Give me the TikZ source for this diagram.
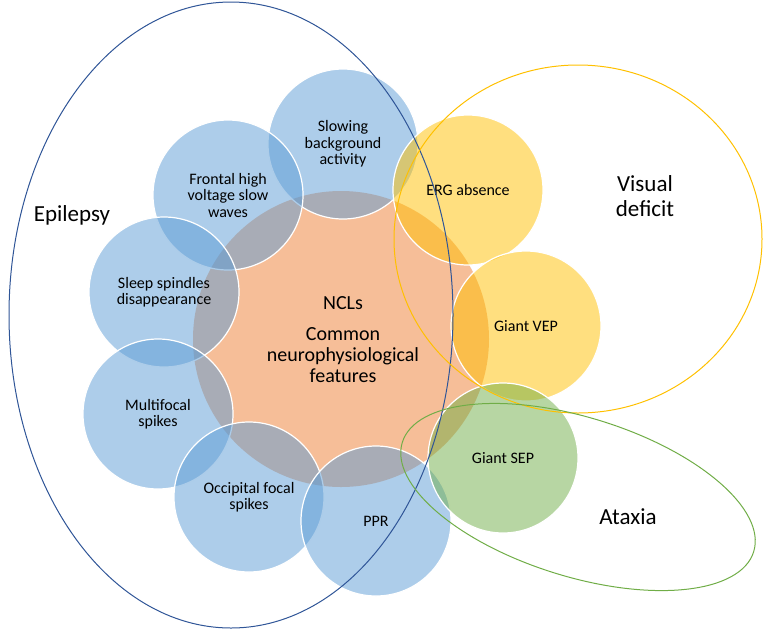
\documentclass[tikz,border=0pt]{standalone}
\usepackage{fontspec}
\setmainfont{Carlito}
\usetikzlibrary{shapes.geometric}
\definecolor{cblue}{HTML}{5B9BD5}
\definecolor{corange}{HTML}{ED7D31}
\definecolor{cyellow}{HTML}{FFC000}
\definecolor{cgreen}{HTML}{70AD47}
\definecolor{cdark}{HTML}{2F5597}
\tikzset{
  bub/.style={circle, minimum size=150pt, inner sep=0pt, fill opacity=0.5, text opacity=1,
     draw=white, line width=1.2pt, align=center, font=\fontsize{16}{16.5}\selectfont},
  bblue/.style={bub, fill=cblue},
  byellow/.style={bub, fill=cyellow},
  bgreen/.style={bub, fill=cgreen},
  bigring/.style={ellipse, inner sep=0pt, line width=1pt, fill=none},
  biglabel/.style={align=center, font=\fontsize{23}{25}\selectfont}
}
\begin{document}
\begin{tikzpicture}[x=1pt,y=-1pt]
\useasboundingbox (0,0) rectangle (765,630);
% central circle
\node[circle, minimum size=296pt, inner sep=0pt, fill=corange, fill opacity=0.5, draw=none] (ncl) at (341,339) {};
% blue circles
\node[bblue] (slow) at (343,144) {Slowing\\background\\activity};
\node[bblue] (front) at (228,195) {Frontal high\\voltage slow\\waves};
\node[bblue] (sleep) at (164,292) {Sleep spindles\\disappearance};
\node[bblue] (multi) at (158,414) {Multifocal\\spikes};
\node[bblue] (occ) at (249,497) {Occipital focal\\spikes};
\node[bblue] (ppr) at (376,521) {PPR};
% yellow circles
\node[byellow] (erg) at (468,190) {ERG absence};
\node[byellow] (vep) at (526,326) {Giant VEP};
% green circle
\node[bgreen] (sep) at (503,458) {Giant SEP};
% central text
\node[font=\fontsize{20}{21}\selectfont] (ncltitle) at (343,303) {NCLs};
\node[align=center, font=\fontsize{20}{21}\selectfont] (ncltext) at (343,355) {Common\\neurophysiological\\features};
% big outlines
\node[bigring, draw=cdark, minimum width=444pt, minimum height=626pt] (epi) at (231,315) {};
\node[bigring, draw=cyellow, minimum width=368pt, minimum height=348pt] (vis) at (578,239) {};
\node[bigring, draw=cgreen, minimum width=368pt, minimum height=159pt, rotate=-17.3] (atax) at (578,497) {};
% labels
\node[biglabel] (epil) at (72,215) {Epilepsy};
\node[biglabel] (visl) at (645,196) {Visual\\deficit};
\node[biglabel] (atal) at (628,517) {Ataxia};
\end{tikzpicture}
\end{document}
